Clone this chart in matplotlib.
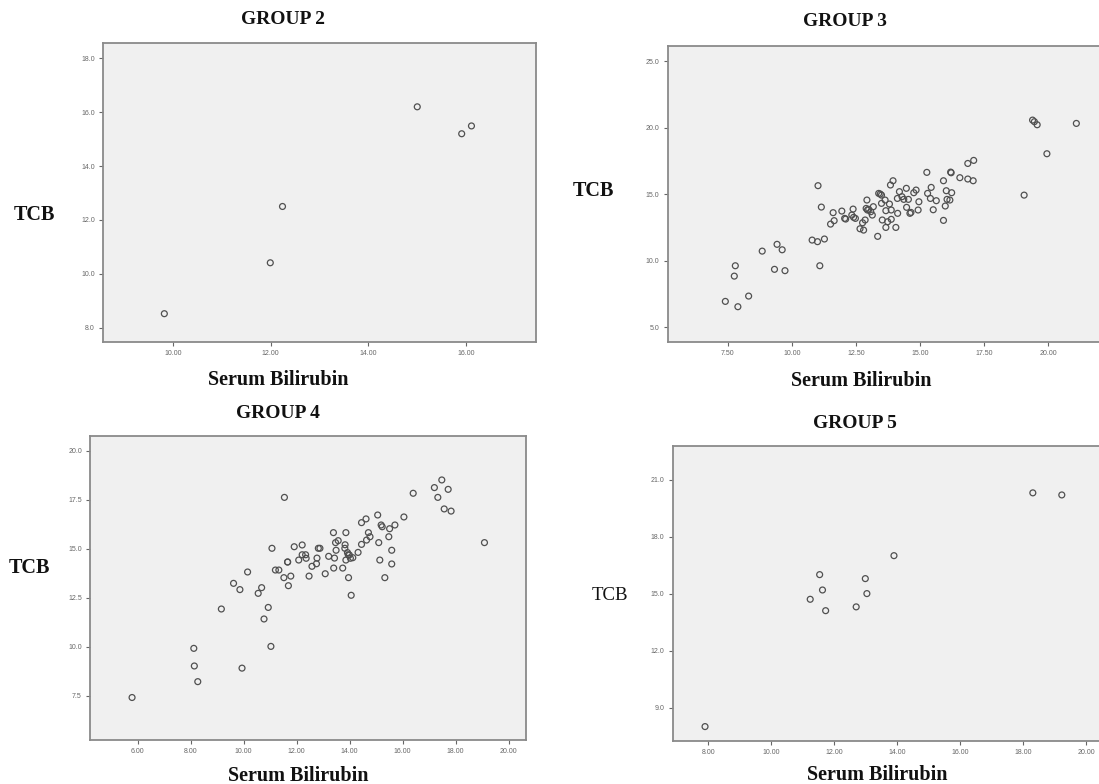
import numpy as np
import matplotlib
matplotlib.use("Agg")
import matplotlib.pyplot as plt

W, H = 1099, 784

# ---- data ----
g2_x = [9.82, 11.99, 12.24, 15.00, 15.91, 16.11]
g2_y = [8.52, 10.41, 12.50, 16.20, 15.20, 15.49]

g3_x = [7.40, 7.89, 8.31, 7.75, 7.79, 8.84, 9.32, 9.42, 9.62, 9.73,
        10.79, 11.00, 11.27, 11.09, 11.02, 11.15, 11.51, 11.61, 11.65, 11.95,
        12.06, 12.10, 12.34, 12.39, 12.41, 12.48, 12.66, 12.80, 12.76, 12.86,
        12.93, 12.90, 13.00, 13.08, 13.14, 13.18, 13.35, 13.39, 13.50, 13.50,
        13.53, 13.64, 13.67, 13.67, 13.74, 13.81, 13.85, 13.95, 13.88, 13.88,
        14.06, 14.13, 14.12, 14.20, 14.37, 14.47, 14.48, 14.55, 14.61, 14.65,
        14.76, 14.85, 14.93, 14.96, 15.27, 15.30, 15.41, 15.44, 15.52, 15.64,
        15.92, 15.92, 15.99, 16.03, 16.06, 16.17, 16.20, 16.24, 16.56, 16.87,
        16.87, 17.10, 17.08, 19.07, 19.40, 19.47, 19.58, 19.96, 21.11, 12.95,
        13.45, 14.30, 16.22]
g3_y = [6.93, 6.53, 7.33, 8.83, 9.61, 10.71, 9.34, 11.22, 10.81, 9.24,
        11.54, 11.42, 11.62, 9.61, 15.63, 14.02, 12.74, 13.60, 13.00, 13.72,
        13.17, 13.12, 13.42, 13.87, 13.25, 13.17, 12.39, 12.29, 12.84, 13.05,
        14.55, 13.92, 13.85, 13.67, 13.42, 14.05, 11.82, 15.05, 14.92, 14.30,
        13.05, 14.55, 12.49, 13.75, 12.92, 14.25, 15.68, 16.00, 13.80, 13.10,
        12.49, 13.55, 14.67, 15.18, 14.60, 15.43, 14.00, 14.60, 13.55, 13.62,
        15.10, 15.30, 13.80, 14.42, 16.63, 15.05, 14.67, 15.50, 13.82, 14.50,
        16.00, 13.02, 14.10, 15.25, 14.60, 14.55, 16.65, 15.10, 16.23, 17.30,
        16.13, 17.53, 16.00, 14.92, 20.56, 20.44, 20.21, 18.03, 20.31, 13.80,
        15.00, 14.80, 16.60]

g4_x = [5.79, 8.12, 8.14, 8.27, 9.16, 9.62, 9.86, 9.94, 10.15, 10.55,
        10.68, 10.77, 10.93, 11.03, 11.07, 11.20, 11.33, 11.54, 11.52, 11.66,
        11.69, 11.78, 11.91, 12.08, 12.21, 12.21, 12.34, 12.36, 12.47, 12.58,
        12.75, 12.77, 12.82, 12.88, 13.08, 13.21, 13.39, 13.40, 13.43, 13.47,
        13.49, 13.57, 13.74, 13.82, 13.83, 13.86, 13.86, 13.92, 13.96, 13.99,
        14.03, 14.06, 14.12, 14.32, 14.45, 14.45, 14.62, 14.64, 14.71, 14.77,
        15.06, 15.10, 15.14, 15.19, 15.23, 15.33, 15.48, 15.51, 15.59, 15.59,
        15.71, 16.05, 16.40, 17.20, 17.33, 17.48, 17.57, 17.72, 17.83, 19.09,
        11.66, 13.95]
g4_y = [7.41, 9.92, 9.02, 8.22, 11.93, 13.24, 12.92, 8.91, 13.82, 12.73,
        13.02, 11.42, 12.01, 10.02, 15.03, 13.92, 13.92, 17.63, 13.53, 14.33,
        13.12, 13.61, 15.11, 14.43, 15.20, 14.70, 14.70, 14.52, 13.61, 14.11,
        14.24, 14.53, 15.03, 15.03, 13.73, 14.62, 15.83, 14.02, 14.53, 15.32,
        14.93, 15.42, 14.02, 15.03, 15.21, 15.83, 14.43, 14.81, 13.53, 14.69,
        14.52, 12.63, 14.55, 14.82, 16.34, 15.23, 16.53, 15.45, 15.83, 15.62,
        16.73, 15.32, 14.43, 16.22, 16.13, 13.53, 15.62, 16.03, 14.93, 14.23,
        16.22, 16.63, 17.84, 18.13, 17.63, 18.52, 17.04, 18.04, 16.93, 15.32,
        14.33, 14.70]

g5_x = [7.89, 11.23, 11.53, 11.62, 11.72, 12.69, 12.98, 13.03, 13.89, 18.30, 19.22]
g5_y = [8.00, 14.71, 16.01, 15.20, 14.11, 14.31, 15.80, 15.01, 17.01, 20.32, 20.21]

g2_xt = [10, 12, 14, 16]
g2_yt = [8, 10, 12, 14, 16, 18]
g3_xt = [7.5, 10, 12.5, 15, 17.5, 20]
g3_yt = [5, 10, 15, 20, 25]
g4_xt = [6, 8, 10, 12, 14, 16, 18, 20]
g4_yt = [7.5, 10, 12.5, 15, 17.5, 20]
g5_xt = [8, 10, 12, 14, 16, 18, 20]
g5_yt = [9, 12, 15, 18, 21]

serif = "Liberation Serif"

fig = plt.figure(figsize=(W / 100, H / 100), dpi=100)
fig.patch.set_facecolor("white")


def add_ax(left, top, right, bottom):
    return fig.add_axes([left / W, 1 - bottom / H, (right - left) / W, (bottom - top) / H])


def style(ax, x, y, xt, yt, xlim, ylim):
    ax.set_facecolor("#f0f0f0")
    ax.scatter(x, y, s=18, facecolors="none", edgecolors="#505050", linewidths=0.9)
    ax.set_xlim(*xlim)
    ax.set_ylim(*ylim)
    ax.set_xticks(xt)
    ax.set_xticklabels(["%.2f" % v for v in xt])
    ax.set_yticks(yt)
    ax.set_yticklabels(["%.1f" % v for v in yt])
    ax.tick_params(labelsize=5, colors="#666666", length=3, width=0.8, pad=3)
    for lab in ax.get_xticklabels() + ax.get_yticklabels():
        lab.set_family("Liberation Sans")
    for s in ax.spines.values():
        s.set_color("#8a8a8a")
        s.set_linewidth(1.3)


ax1 = add_ax(103.3, 42.7, 536.4, 341.7)
style(ax1, g2_x, g2_y, g2_xt, g2_yt, (8.57, 17.44), (7.48, 18.58))

ax2 = add_ax(667.6, 46, 1104, 341.7)
style(ax2, g3_x, g3_y, g3_xt, g3_yt, (5.145, 22.19), (3.9, 26.13))

ax3 = add_ax(90.2, 435.7, 525.8, 740)
style(ax3, g4_x, g4_y, g4_xt, g4_yt, (4.21, 20.65), (5.24, 20.78))

ax4 = add_ax(672.6, 446, 1104, 741)
style(ax4, g5_x, g5_y, g5_xt, g5_yt, (6.86, 20.56), (7.24, 22.79))


def label(x, y, s, size, weight="bold"):
    fig.text(x / W, 1 - y / H, s, ha="center", va="center", fontsize=size,
             fontweight=weight, family=serif, color="#111111")


label(283, 20, "GROUP 2", 14)
label(845, 22, "GROUP 3", 14)
label(278, 413, "GROUP 4", 14)
label(855, 423, "GROUP 5", 14)

label(34, 215, "TCB", 14.5)
label(593, 191, "TCB", 14.5)
label(29, 568, "TCB", 14.5)
label(610, 595, "TCB", 13.5, weight="normal")

label(278, 380, "Serum Bilirubin", 14.5)
label(861, 381, "Serum Bilirubin", 14.5)
label(298, 776, "Serum Bilirubin", 14.5)
label(877, 775, "Serum Bilirubin", 14.5)

fig.savefig("out.png", dpi=100)
